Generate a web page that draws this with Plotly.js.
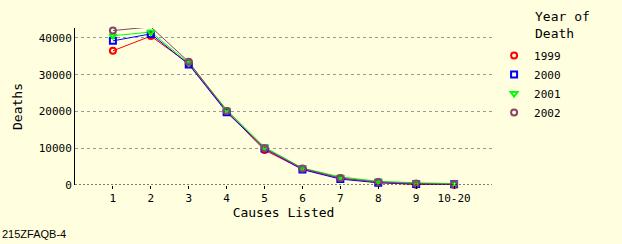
<!DOCTYPE html>
<html>
<head>
<meta charset="utf-8">
<script src="https://cdn.plot.ly/plotly-3.0.1.min.js"></script>
<style>html,body{margin:0;padding:0;background:#ffffdf;}#chart{width:622px;height:244px;}</style>
</head>
<body>
<div id="chart"></div>
<script>
const categories = ["1","2","3","4","5","6","7","8","9","10-20"];
const years = ["1999","2000","2001","2002"];
const deaths1999 = [36500, 40500, 33000, 20000, 9500, 4300, 1800, 700, 100, 100];
const deaths2000 = [39200, 41100, 32800, 19800, 9900, 4200, 1600, 600, 300, 200];
const deaths2001 = [40600, 41600, 33200, 20500, 10300, 4600, 2200, 1000, 600, 400];
const deaths2002 = [42000, 43000, 33500, 20100, 10000, 4500, 1900, 800, 400, 200];
const colors = ["#ff0000", "#0000ff", "#00ff00", "#884466"];
const symbols = ["circle-open", "square-open", "triangle-down-open", "circle-open"];
const series = [deaths1999, deaths2000, deaths2001, deaths2002];

const font = "DejaVu Sans Mono, monospace";
const lineTraces = series.map((ys, i) => ({
  x: categories, y: ys, name: years[i], type: "scatter", mode: "lines",
  showlegend: false, cliponaxis: false,
  line: {color: colors[i], width: 1}
}));
const markerTraces = series.map((ys, i) => ({
  x: categories, y: ys, name: years[i], type: "scatter", mode: "markers",
  cliponaxis: false,
  marker: {symbol: symbols[i], color: colors[i], size: 6, line: {width: 2, color: colors[i]}}
}));

const layout = {
  width: 622, height: 244,
  margin: {l: 75, r: 130, t: 28, b: 59},
  paper_bgcolor: "#ffffdf", plot_bgcolor: "#ffffdf",
  font: {family: font, size: 11, color: "#000"},
  showlegend: true,
  legend: {
    x: 1.005, y: 0.917, xanchor: "left", yanchor: "top",
    bgcolor: "rgba(0,0,0,0)", font: {family: font, size: 11},
    tracegroupgap: 0, itemsizing: "trace"
  },
  xaxis: {
    type: "category", range: [-1, 10], showgrid: false, zeroline: false,
    showline: false,
    ticks: "outside", ticklen: 3, tickcolor: "#000",
    tickfont: {family: font, size: 11},
    title: {text: "Causes Listed", font: {family: font, size: 13}, standoff: 3}
  },
  yaxis: {
    range: [0, 42700], tickvals: [0, 10000, 20000, 30000, 40000],
    ticktext: ["0", "10000", "20000", "30000", "40000"],
    showgrid: true, gridcolor: "#999", griddash: "3px,3px", gridwidth: 1,
    zeroline: false, showline: true, linecolor: "#000", linewidth: 1,
    ticks: "", tickfont: {family: font, size: 11},
    title: {text: "Deaths", font: {family: font, size: 13}, standoff: 13}
  },
  shapes: [{type: "line", xref: "paper", yref: "y", x0: 0, x1: 1, y0: 0, y1: 0,
    line: {color: "#000", width: 1, dash: "2px,2px"}}],
  annotations: [
    {text: "215ZFAQB-4", xref: "paper", yref: "paper", x: -75/417, y: -49/157,
     xanchor: "left", yanchor: "middle", showarrow: false, font: {family: "Liberation Sans, Arial", size: 11}},
    {text: "Year of<br>Death", xref: "paper", yref: "paper", x: (533-75)/417, y: (185-7)/157,
     xanchor: "left", yanchor: "top", align: "left", showarrow: false, font: {family: font, size: 13}}
  ]
};
Plotly.newPlot("chart", lineTraces.concat(markerTraces), layout, {staticPlot: true, displayModeBar: false});
</script>
</body>
</html>
